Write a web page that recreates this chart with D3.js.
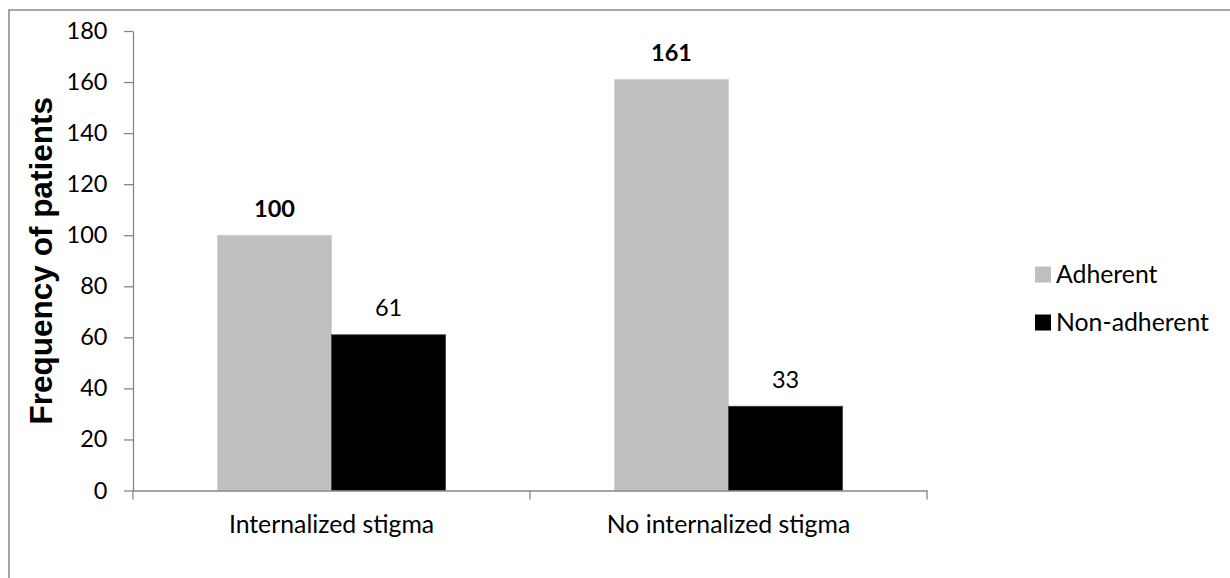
<!DOCTYPE html>
<html>
<head>
<meta charset="utf-8">
<script src="https://cdn.jsdelivr.net/npm/d3@7"></script>
<style>
  html, body { margin: 0; padding: 0; background: #fff; }
  svg { display: block; }
  .tick text { font-family: Lato, "Open Sans", sans-serif; }
</style>
</head>
<body>
<svg id="chart" width="1230" height="578"></svg>
<script>
const categories = ["Internalized stigma", "No internalized stigma"];
const seriesNames = ["Adherent", "Non-adherent"];
const adherentValues = [100, 161];
const nonAdherentValues = [61, 33];
const yTickValues = [0, 20, 40, 60, 80, 100, 120, 140, 160, 180];
const seriesColors = ["#BFBFBF", "#000000"];
const yTitle = "Frequency of patients";

const seriesValues = [adherentValues, nonAdherentValues];
const data = categories.map((c, i) => ({
  category: c,
  values: seriesNames.map((s, j) => ({ series: s, value: seriesValues[j][i], idx: j }))
}));

const FONT = "Lato, 'Open Sans', sans-serif";
const FS_NUM = 23.5;
const FS_TXT = 24.8;
const AXIS = "#868686";

const svg = d3.select("#chart");

// outer chart border
svg.append("rect")
  .attr("x", 9).attr("y", 10)
  .attr("width", 1400).attr("height", 800)
  .attr("fill", "none").attr("stroke", "#8a8a8a").attr("stroke-width", 1.5);

const y = d3.scaleLinear().domain([0, 180]).range([490.5, 31]);
const x0 = d3.scaleBand().domain(categories).range([133, 927]).padding(0);
const x1 = d3.scaleBand().domain(seriesNames).range([0, x0.bandwidth()])
  .paddingInner(0).paddingOuter(0.74);
const color = d3.scaleOrdinal().domain(seriesNames).range(seriesColors);

// bars
const groups = svg.append("g").selectAll("g").data(data).join("g")
  .attr("transform", d => `translate(${x0(d.category)},0)`);

groups.selectAll("rect").data(d => d.values).join("rect")
  .attr("x", d => x1(d.series))
  .attr("y", d => y(d.value))
  .attr("width", x1.bandwidth())
  .attr("height", d => y(0) - y(d.value))
  .attr("fill", d => color(d.series))
  .attr("stroke", d => d.idx === 1 ? "#404040" : "#d0d0d0")
  .attr("stroke-width", 0.8);

groups.selectAll("text").data(d => d.values).join("text")
  .attr("x", d => x1(d.series) + x1.bandwidth() / 2)
  .attr("y", d => y(d.value) - 18.5)
  .attr("text-anchor", "middle")
  .attr("font-family", FONT)
  .attr("font-size", FS_NUM)
  .attr("font-weight", d => d.idx === 0 ? "bold" : "normal")
  .attr("fill", "#000")
  .text(d => d.value);

// y axis
const yAxis = svg.append("g")
  .attr("transform", `translate(${x0.range()[0]},0)`)
  .call(d3.axisLeft(y).tickValues(yTickValues).tickSize(9).tickPadding(16.5).tickSizeOuter(0));
yAxis.selectAll("path, line").attr("stroke", AXIS).attr("stroke-width", 1.3);
yAxis.selectAll("text").attr("font-size", FS_NUM).attr("fill", "#000").attr("font-family", FONT);

// x axis
const xAxis = svg.append("g")
  .attr("transform", `translate(0,${y(0)})`)
  .call(d3.axisBottom(x0).tickSize(0).tickPadding(25).tickSizeOuter(0));
xAxis.select("path").attr("stroke", AXIS).attr("stroke-width", 1.3);
xAxis.selectAll("text").attr("font-size", FS_TXT).attr("fill", "#000").attr("font-family", FONT);

// category boundary ticks
const boundaries = [x0.range()[0]].concat(categories.map(c => x0(c) + x0.bandwidth()));
svg.append("g").selectAll("line").data(boundaries).join("line")
  .attr("x1", d => d).attr("x2", d => d)
  .attr("y1", y(0)).attr("y2", y(0) + 9)
  .attr("stroke", AXIS).attr("stroke-width", 1.3);

// y title
svg.append("text")
  .attr("transform", `translate(52,${(y(0) + y(180)) / 2}) rotate(-90)`)
  .attr("text-anchor", "middle")
  .attr("font-family", "'Liberation Sans', Arial, sans-serif")
  .attr("font-weight", "bold")
  .attr("font-size", 31.5)
  .attr("fill", "#000")
  .text(yTitle);

// legend
const legend = svg.append("g").attr("transform", "translate(1035,0)");
const legendY = d3.scalePoint().domain(seriesNames).range([274.5, 322.5]);
const li = legend.selectAll("g").data(seriesNames).join("g")
  .attr("transform", d => `translate(0,${legendY(d)})`);
li.append("rect")
  .attr("x", 0).attr("y", -8).attr("width", 16).attr("height", 16)
  .attr("fill", d => color(d));
li.append("text")
  .attr("x", 21).attr("y", 0).attr("dy", "0.36em")
  .attr("font-family", FONT).attr("font-size", FS_TXT).attr("fill", "#000")
  .text(d => d);
</script>
</body>
</html>
